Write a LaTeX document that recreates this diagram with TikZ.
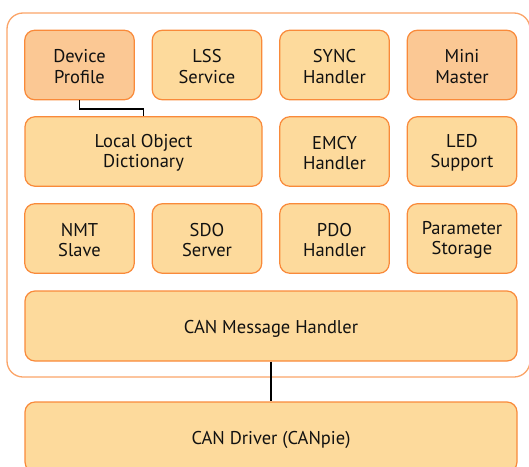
\documentclass[tikz,border=0pt]{standalone}
\usepackage{fontspec}
\setmainfont{PT Sans}
\definecolor{boxfill}{HTML}{FDDA9C}
\definecolor{boxdark}{HTML}{FBC894}
\definecolor{boxline}{HTML}{F98A3A}
\definecolor{frameline}{HTML}{FBA468}
\definecolor{txt}{HTML}{111111}
\newcommand\twoline[2]{\rule{0pt}{16pt}#1\\#2}
\begin{document}
\begin{tikzpicture}[x=1pt,y=-1pt,
  mod/.style={draw=boxline, line width=1.2pt, fill=boxfill, rounded corners=10pt,
    minimum width=109.5pt, minimum height=69.5pt, inner sep=0pt, align=center,
    text=txt, font=\fontsize{18.5}{20.5}\selectfont},
  moddark/.style={mod, fill=boxdark},
  wire/.style={draw=black, line width=1.6pt}]
\useasboundingbox (0,0) rectangle (529,466);
\draw[frameline, line width=1.3pt, rounded corners=16pt] (7,13) rectangle (530,377);
\node[moddark] (dp) at (79.5,65) {\twoline{Device}{Profile}};
\node[mod] (lss) at (207,65) {\twoline{LSS}{Service}};
\node[mod] (sync) at (334.5,65) {\twoline{SYNC}{Handler}};
\node[moddark] (mini) at (462,65) {\twoline{Mini}{Master}};
\node[mod, minimum width=237pt] (lod) at (143.5,151.5) {\twoline{Local Object}{Dictionary}};
\node[mod] (emcy) at (334.5,151.5) {\twoline{EMCY}{Handler}};
\node[mod] (led) at (462,151.5) {\twoline{LED}{Support}};
\node[mod] (nmt) at (79.5,238.5) {\twoline{NMT}{Slave}};
\node[mod] (sdo) at (207,238.5) {\twoline{SDO}{Server}};
\node[mod] (pdo) at (334.5,238.5) {\twoline{PDO}{Handler}};
\node[mod] (par) at (462,238.5) {\twoline{Parameter}{Storage}};
\node[mod, minimum width=492pt, minimum height=70pt] (cmh) at (271,326) {\rule{0pt}{19pt}CAN Message Handler};
\node[mod, minimum width=492pt, minimum height=70pt] (drv) at (271,437) {\rule{0pt}{19pt}CAN Driver (CANpie)};
\draw[wire] (dp.south) -- ++(0,8.5) -| (lod.north);
\draw[wire] (cmh.south) -- (drv.north);
\end{tikzpicture}
\end{document}
